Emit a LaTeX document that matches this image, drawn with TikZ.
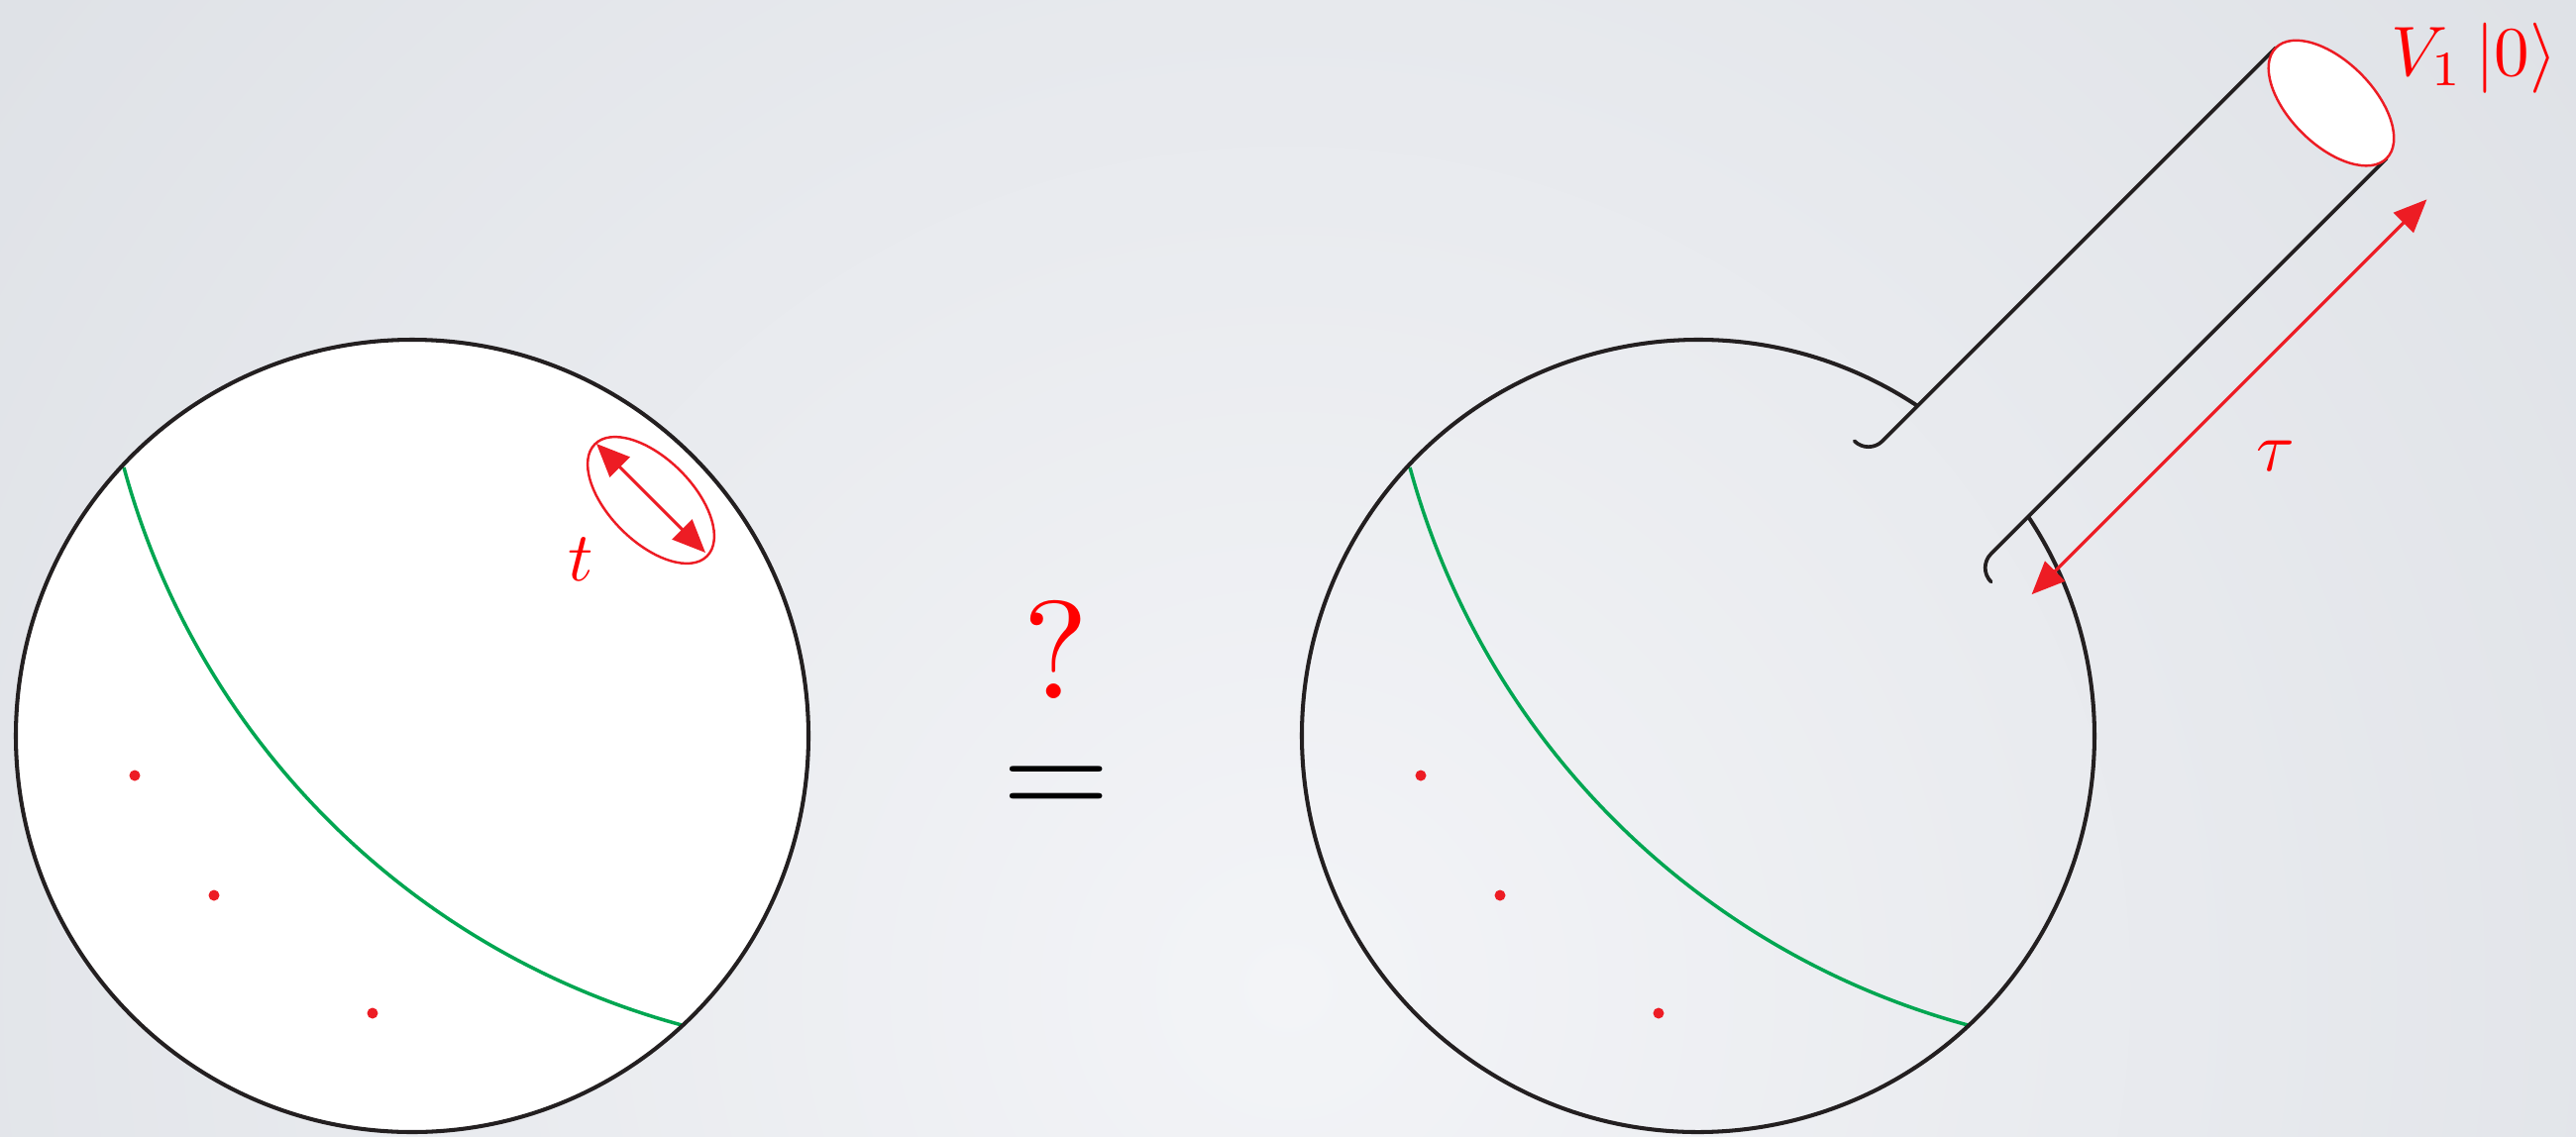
\documentclass[tikz,border=0pt]{standalone}
\usepackage{graphicx}
\usetikzlibrary{arrows.meta}
\definecolor{kred}{HTML}{ED1C24}
\definecolor{tred}{HTML}{FF0000}
\definecolor{kgreen}{HTML}{00A651}
\definecolor{kblack}{HTML}{231F20}
\definecolor{bgin}{HTML}{F3F4F7}
\definecolor{bgout}{HTML}{DEE1E6}
\begin{document}
\begin{tikzpicture}[x=0.01cm,y=0.01cm,
  disk/.style={draw=kblack, line width=1.15pt},
  tubeline/.style={draw=kblack, line width=1.05pt, line cap=round},
  geod/.style={draw=kgreen, line width=1pt},
  redarrow/.style={draw=kred, line width=0.9pt, {Triangle[length=9.5pt,width=8pt]}-{Triangle[length=9.5pt,width=8pt]}},
  redring/.style={draw=kred, line width=0.7pt},
  dotmark/.style={fill=kred},
  lab/.style={text=tred, inner sep=0pt}
]
\useasboundingbox (0,0) rectangle (2600,1147);
\begin{scope}
  \clip (0,0) rectangle (2600,1147);
  \shade[inner color=bgin, outer color=bgout] (1300,150) circle[radius=1700];
\end{scope}

% ---------- left disk ----------
\fill[white] (416,404) circle[radius=400];
\draw[geod] (898,885) ++(195.2:801) arc[start angle=195.2, end angle=254.8, radius=801];
\draw[disk] (416,404) circle[radius=400];
\fill[dotmark] (136,364) circle[radius=5.5];
\fill[dotmark] (216,243) circle[radius=5.5];
\fill[dotmark] (376,124) circle[radius=5.5];
\draw[redring, shift={(657,642)}, rotate=-45] (0,0) ellipse[x radius=80, y radius=42];
\coordinate (ta) at (602,699);
\coordinate (tb) at (712,589);
\draw[redarrow] (ta) -- (tb);
\node[lab, anchor=base] (tlab) at (586,561) {\scalebox{2}{$t$}};

% ---------- middle ----------
\node[lab, anchor=base] (q) at (1066,442) {\scalebox{4}{?}};
\node[anchor=base, inner sep=0pt, text=black] (eq) at (1066,322) {\scalebox{4}{$=$}};

% ---------- right disk ----------
\draw[geod] (2196,885) ++(195.2:801) arc[start angle=195.2, end angle=254.8, radius=801];
\draw[disk] (1714,404) ++(56.4:400) arc[start angle=56.4, end angle=393.6, radius=400];
\fill[dotmark] (1434,364) circle[radius=5.5];
\fill[dotmark] (1514,243) circle[radius=5.5];
\fill[dotmark] (1674,124) circle[radius=5.5];

\begin{scope}[shift={(1714,404)}, rotate=45]
  \draw[tubeline] (903.6,79) -- (342,79) arc[start angle=-90, end angle=-180, radius=20];
  \draw[tubeline] (903.6,-79) -- (339,-79) arc[start angle=90, end angle=180, radius=20];
  \draw[redring, fill=white] (903.6,0) ellipse[x radius=42, y radius=79];
  \coordinate (tauA) at (339,-137);
  \coordinate (tauB) at (903,-137);
  \draw[redarrow] (tauA) -- (tauB);
\end{scope}
\node[lab, anchor=base] (taulab) at (2297,672) {\scalebox{2}{$\tau$}};
\node[lab, anchor=base] (vlab) at (2497,1071) {\scalebox{2.02}{$V_1\,|0\rangle$}};
\end{tikzpicture}
\end{document}
